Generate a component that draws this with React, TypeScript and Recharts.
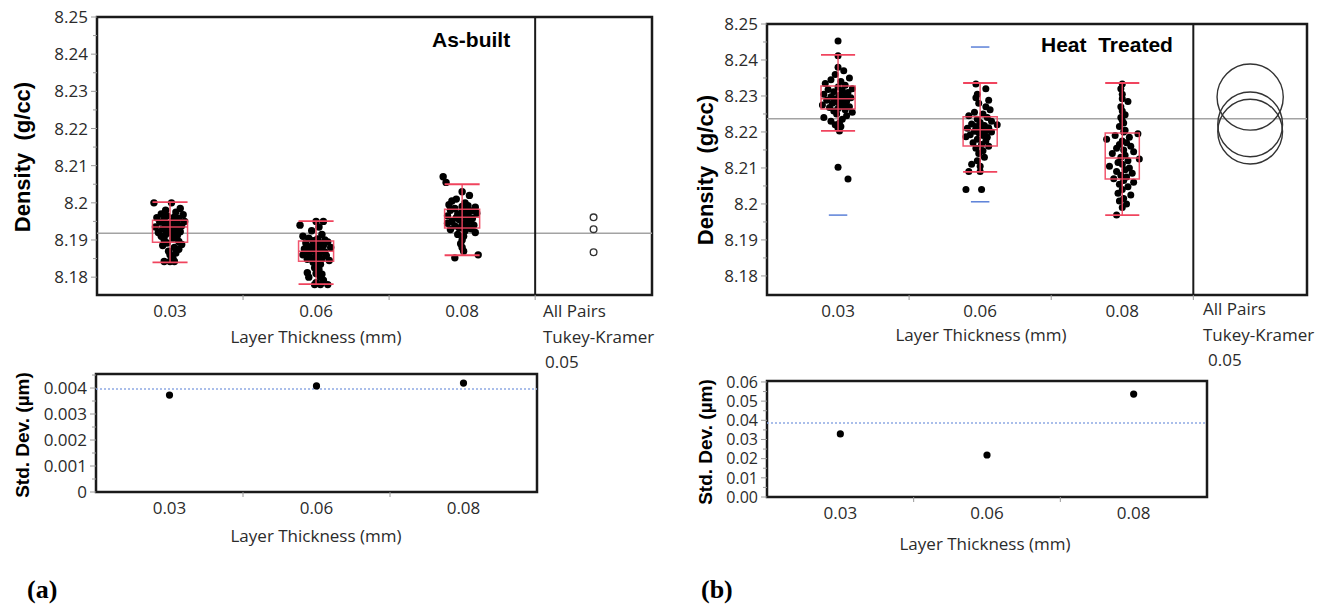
import React from "react";
import { ComposedChart, Scatter, XAxis, YAxis, ReferenceArea, ReferenceLine } from "recharts";

// layer thickness groups (mm)
const thickness = ["0.03", "0.06", "0.08"];

// As-built density readings, [density g/cc, horizontal jitter in band units]
const asBuilt003 = [
  [8.2, -0.11], [8.2, 0.01], [8.1985, 0.07], [8.198, -0.03], [8.1975, 0.04], [8.197, -0.06],
  [8.1968, 0.09], [8.1965, -0.02], [8.1962, 0.03], [8.196, -0.09], [8.1958, 0.06], [8.1955, -0.04],
  [8.1952, 0.02], [8.195, 0.1], [8.1948, -0.07], [8.1945, 0.0], [8.1943, 0.05], [8.194, -0.03],
  [8.1938, 0.08], [8.1935, -0.1], [8.1933, 0.02], [8.193, -0.05], [8.1928, 0.04], [8.1925, -0.01],
  [8.1922, 0.07], [8.192, -0.08], [8.1918, 0.01], [8.1915, -0.03], [8.1912, 0.05], [8.191, -0.06],
  [8.1905, 0.02], [8.19, -0.04], [8.1896, 0.06], [8.1892, -0.02], [8.1888, 0.08], [8.1885, -0.05],
  [8.188, 0.03], [8.1875, 0.06], [8.187, -0.01], [8.1865, 0.04], [8.186, 0.0], [8.185, 0.02],
  [8.1842, -0.04], [8.1842, 0.03], [8.1842, 0.0],
];
const asBuilt006 = [
  [8.195, 0.0], [8.195, 0.05], [8.194, -0.11], [8.1935, 0.02], [8.1925, -0.03], [8.1915, 0.04],
  [8.191, -0.09], [8.1905, -0.05], [8.1903, 0.01], [8.19, 0.06], [8.1898, -0.02], [8.1895, 0.08],
  [8.1892, -0.07], [8.189, 0.03], [8.1887, -0.01], [8.1885, 0.05], [8.1882, -0.04], [8.188, 0.1],
  [8.1878, 0.0], [8.1876, -0.08], [8.1873, 0.04], [8.187, -0.02], [8.1868, 0.06], [8.1865, -0.05],
  [8.1862, 0.02], [8.186, -0.09], [8.1858, 0.07], [8.1855, 0.0], [8.1852, -0.03], [8.185, 0.04],
  [8.1848, -0.06], [8.1845, 0.09], [8.1843, 0.01], [8.184, -0.02], [8.1835, 0.03], [8.183, 0.01],
  [8.1825, -0.01], [8.182, 0.02], [8.1812, -0.06], [8.181, 0.0], [8.1808, 0.04], [8.18, -0.05],
  [8.18, 0.03], [8.1792, 0.05], [8.1785, 0.0], [8.178, -0.01], [8.178, 0.03], [8.178, 0.08],
];
const asBuilt008 = [
  [8.207, -0.13], [8.2055, -0.11], [8.203, 0.0], [8.202, 0.05], [8.201, -0.04], [8.2005, -0.07],
  [8.2, 0.02], [8.1995, -0.09], [8.1992, 0.04], [8.199, 0.0], [8.1988, 0.09], [8.1985, -0.05],
  [8.1982, 0.02], [8.198, -0.08], [8.1978, 0.06], [8.1975, 0.0], [8.1972, 0.1], [8.197, -0.03],
  [8.1968, 0.04], [8.1965, -0.1], [8.1962, 0.01], [8.196, -0.04], [8.1958, 0.07], [8.1955, -0.02],
  [8.1952, 0.05], [8.195, -0.07], [8.1948, 0.03], [8.1945, -0.1], [8.1942, 0.0], [8.194, 0.08],
  [8.1938, -0.05], [8.1935, 0.04], [8.1932, -0.02], [8.193, 0.06], [8.1928, -0.08], [8.1925, 0.02],
  [8.192, 0.09], [8.1915, -0.03], [8.191, 0.01], [8.19, 0.0], [8.189, -0.01], [8.188, 0.0],
  [8.187, 0.01], [8.186, 0.11], [8.1852, -0.05],
];

// Heat treated density readings
const heat003 = [
  [8.2453, 0.0], [8.2412, 0.0], [8.238, 0.0], [8.237, 0.04], [8.236, -0.02], [8.235, 0.08],
  [8.2345, -0.05], [8.234, 0.02], [8.2335, -0.09], [8.233, 0.05], [8.2325, 0.0], [8.232, 0.1],
  [8.2318, -0.07], [8.2315, 0.03], [8.2312, -0.03], [8.231, 0.07], [8.2305, -0.1], [8.2302, 0.01],
  [8.23, 0.05], [8.2298, -0.05], [8.2295, 0.09], [8.2292, -0.02], [8.229, 0.03], [8.2288, -0.08],
  [8.2285, 0.06], [8.2282, 0.0], [8.228, -0.04], [8.2278, 0.04], [8.2275, -0.11], [8.2272, 0.02],
  [8.227, 0.08], [8.2268, -0.06], [8.2265, 0.0], [8.2262, 0.05], [8.2258, -0.03], [8.2255, 0.1],
  [8.225, -0.01], [8.2245, 0.06], [8.224, -0.1], [8.2235, 0.03], [8.223, -0.05], [8.2225, 0.01],
  [8.222, -0.02], [8.2215, 0.02], [8.221, 0.0], [8.2203, 0.01], [8.2102, 0.0], [8.2069, 0.07],
];
const heat006 = [
  [8.2333, -0.03], [8.232, 0.04], [8.2305, -0.02], [8.2295, -0.03], [8.2288, 0.06], [8.228, -0.01],
  [8.227, 0.04], [8.2262, 0.07], [8.2255, -0.04], [8.225, 0.02], [8.2245, -0.08], [8.224, 0.05],
  [8.2235, -0.02], [8.223, 0.08], [8.2226, 0.0], [8.2222, -0.06], [8.222, 0.12], [8.2218, 0.03],
  [8.2215, -0.03], [8.2212, 0.06], [8.221, -0.09], [8.2208, 0.01], [8.2205, 0.05], [8.2202, -0.04],
  [8.22, 0.08], [8.2198, -0.01], [8.2195, 0.03], [8.2192, -0.07], [8.219, 0.02], [8.2187, -0.1],
  [8.2185, 0.05], [8.218, -0.02], [8.2175, 0.04], [8.217, -0.05], [8.2165, 0.01], [8.216, 0.06],
  [8.2155, -0.03], [8.2148, 0.02], [8.214, -0.01], [8.213, 0.03], [8.212, -0.02], [8.211, -0.06],
  [8.2105, 0.0], [8.209, -0.08], [8.209, 0.0], [8.204, -0.1], [8.204, 0.01],
];
const heat008 = [
  [8.2333, 0.0], [8.232, -0.01], [8.2305, 0.0], [8.2292, 0.0], [8.2285, 0.04], [8.227, -0.01],
  [8.2258, 0.0], [8.2248, 0.02], [8.224, -0.01], [8.2232, 0.0], [8.2225, 0.01], [8.2215, -0.02],
  [8.2205, 0.02], [8.22, 0.01], [8.2195, 0.11], [8.219, -0.05], [8.2185, 0.05], [8.218, -0.11],
  [8.2175, 0.0], [8.217, 0.03], [8.2165, -0.02], [8.216, 0.06], [8.2155, -0.04], [8.215, 0.01],
  [8.2145, 0.08], [8.214, -0.07], [8.2135, 0.02], [8.213, -0.01], [8.2125, 0.12], [8.212, 0.04],
  [8.2115, -0.03], [8.211, 0.0], [8.2105, -0.09], [8.21, 0.05], [8.2095, 0.02], [8.209, -0.04],
  [8.2085, 0.07], [8.208, -0.01], [8.2075, 0.03], [8.207, -0.06], [8.2065, 0.01], [8.206, 0.08],
  [8.2055, -0.02], [8.2048, 0.04], [8.204, 0.0], [8.203, -0.03], [8.2025, 0.06], [8.2015, 0.01],
  [8.2008, -0.02], [8.2, 0.03], [8.199, 0.0], [8.1969, -0.04],
];

// quantile boxes: whisker low, Q1, median, Q3, whisker high
const asBuiltBoxes = [
  { lo: 8.184, q1: 8.1894, median: 8.1935, q3: 8.1953, hi: 8.2002 },
  { lo: 8.1781, q1: 8.1843, median: 8.187, q3: 8.1897, hi: 8.1951 },
  { lo: 8.1859, q1: 8.1932, median: 8.1961, q3: 8.1983, hi: 8.205 },
];
const heatBoxes = [
  { lo: 8.2203, q1: 8.2264, median: 8.2292, q3: 8.2328, hi: 8.2414 },
  { lo: 8.2089, q1: 8.2161, median: 8.2206, q3: 8.2242, hi: 8.2336 },
  { lo: 8.1969, q1: 8.2069, median: 8.2128, q3: 8.2197, hi: 8.2336 },
];
// blue outlier-limit marks, [group index, density]
const heatLimits = [[0, 8.1969], [1, 8.2436], [1, 8.2006]];

const asBuiltGrandMean = 8.1918;
const heatGrandMean = 8.2237;

// Tukey-Kramer comparison circles: centre (group mean) and radius, g/cc
const asBuiltMeans = [8.1929, 8.1867, 8.1961];
const asBuiltRadii = [0.0009, 0.0009, 0.0009];
const heatMeans = [8.2297, 8.2221, 8.2201];
const heatRadii = [0.0092, 0.009, 0.009];

// group standard deviations and pooled value
const asBuiltSd = [0.00373, 0.00408, 0.00419];
const asBuiltPooledSd = 0.00396;
const heatSd = [0.0329, 0.0219, 0.0537];
const heatPooledSd = 0.0386;

const densityMajor = [8.18, 8.19, 8.2, 8.21, 8.22, 8.23, 8.24, 8.25];
const densityLabels = ["8.18", "8.19", "8.2", "8.21", "8.22", "8.23", "8.24", "8.25"];
const densityMinor = [8.185, 8.195, 8.205, 8.215, 8.225, 8.235, 8.245];
const asBuiltSdMajor = [0, 0.001, 0.002, 0.003, 0.004];
const asBuiltSdLabels = ["0", "0.001", "0.002", "0.003", "0.004"];
const asBuiltSdMinor = [0.0005, 0.0015, 0.0025, 0.0035, 0.0045];
const heatSdMajor = [0, 0.01, 0.02, 0.03, 0.04, 0.05, 0.06];
const heatSdLabels = ["0.00", "0.01", "0.02", "0.03", "0.04", "0.05", "0.06"];
const heatSdMinor = [0.005, 0.015, 0.025, 0.035, 0.045, 0.055];

const RED = "#f0445e";
const BLUE = "#5b80d8";
const FRAME = "#1a1a1a";
const TEXT = "#2b2b2b";
const SANS = "'Open Sans', 'Noto Sans', sans-serif";
const BOLD = "'Liberation Sans', Arial, sans-serif";
const SERIF = "'Liberation Serif', 'Times New Roman', serif";
const FS = 17;
const HALF = 0.12;
const X_AXIS_H = 50;
const TOP_H = 345;

const YTick = (props: any) => {
  const { x, y, payload, major, labels, fontSize = FS } = props;
  const idx = major.findIndex((m: number) => Math.abs(m - payload.value) < 1e-9);
  return (
    <g>
      <line x1={x} x2={x - (idx >= 0 ? 6 : 4)} y1={y} y2={y} stroke="#9a9a9a" />
      {idx >= 0 && (
        <text x={x - 9} y={y} dy="0.36em" textAnchor="end" fontSize={fontSize} fill={TEXT} fontFamily={SANS}>
          {labels[idx]}
        </text>
      )}
    </g>
  );
};

const XTick = (props: any) => {
  const { x, y, payload } = props;
  const v = payload.value;
  if (Number.isInteger(v)) {
    return (
      <text x={x} y={y + 16} dy="0.36em" textAnchor="middle" fontSize={FS} fill={TEXT} fontFamily={SANS}>
        {thickness[v - 1]}
      </text>
    );
  }
  return <line x1={x} x2={x} y1={y} y2={y + 5} stroke="#9a9a9a" />;
};

const toPoints = (groups: number[][][]) =>
  groups.flatMap((pts, gi) => pts.map(([v, j]) => ({ x: gi + 1 + j, y: v })));

type Box = { lo: number; q1: number; median: number; q3: number; hi: number };

// shared axes for the density panels; ticks off for the overlay copy
const densityAxes = (domain: [number, number], yWidth: number, showTicks: boolean) => [
  <XAxis
    key="x"
    dataKey="x"
    type="number"
    domain={[0.5, 4.3]}
    allowDataOverflow
    ticks={[1, 1.5, 2, 2.5, 3, 3.5]}
    interval={0}
    height={X_AXIS_H}
    axisLine={false}
    tickLine={false}
    tickSize={0}
    tickMargin={0}
    tick={showTicks ? (p: any) => <XTick {...p} /> : false}
  />,
  <YAxis
    key="y"
    dataKey="y"
    type="number"
    domain={domain}
    allowDataOverflow
    ticks={[...densityMajor, ...densityMinor].sort((a, b) => a - b)}
    interval={0}
    width={yWidth}
    axisLine={false}
    tickLine={false}
    tickSize={0}
    tickMargin={0}
    tick={showTicks ? (p: any) => <YTick {...p} major={densityMajor} labels={densityLabels} /> : false}
  />,
];

function DensityChart(props: {
  left: number;
  width: number;
  yWidth: number;
  marginTop: number;
  marginRight: number;
  domain: [number, number];
  groups: number[][][];
  boxes: Box[];
  grandMean: number;
  means: number[];
  radii: number[];
  limits?: number[][];
  dotR: number;
}) {
  const { left, width, yWidth, marginTop, marginRight, domain, groups, boxes, grandMean, means, radii, limits = [], dotR } = props;
  const margin = { top: marginTop, right: marginRight, bottom: 0, left: 0 };
  const pxPerUnit = (TOP_H - marginTop - X_AXIS_H) / (domain[1] - domain[0]);
  const dots = toPoints(groups);
  const circles = means.map((m, i) => ({ x: 3.9, y: m, r: radii[i] }));
  return (
    <>
      <div style={{ position: "absolute", left, top: 0 }}>
        <ComposedChart width={width} height={TOP_H} margin={margin}>
          {densityAxes(domain, yWidth, true)}
          <ReferenceLine y={grandMean} stroke="#a3a3a3" strokeWidth={1.5} />
          <ReferenceLine x={3.5} stroke={FRAME} strokeWidth={2} />
          <ReferenceArea x1={0.5} x2={4.3} y1={domain[0]} y2={domain[1]} fill="none" stroke={FRAME} strokeWidth={2.5} />
          <Scatter
            data={dots}
            isAnimationActive={false}
            shape={(p: any) => <circle cx={p.cx} cy={p.cy} r={dotR} fill="#000" />}
          />
          <Scatter
            data={circles}
            isAnimationActive={false}
            shape={(p: any) => (
              <circle cx={p.cx} cy={p.cy} r={p.payload.r * pxPerUnit} fill="none" stroke="#333" strokeWidth={1.4} />
            )}
          />
        </ComposedChart>
      </div>
      {/* quantile boxes drawn above the points */}
      <div style={{ position: "absolute", left, top: 0 }}>
        <ComposedChart width={width} height={TOP_H} margin={margin}>
          {densityAxes(domain, yWidth, false)}
          {boxes.map((b, i) => (
            <ReferenceArea key={`box${i}`} x1={i + 1 - HALF} x2={i + 1 + HALF} y1={b.q1} y2={b.q3} fill="none" stroke={RED} strokeWidth={1.5} strokeOpacity={0.9} />
          ))}
          {boxes.map((b, i) => (
            <ReferenceLine key={`wh${i}`} segment={[{ x: i + 1, y: b.lo }, { x: i + 1, y: b.hi }]} stroke={RED} strokeWidth={1.5} strokeOpacity={0.9} />
          ))}
          {boxes.map((b, i) => (
            <ReferenceLine key={`md${i}`} segment={[{ x: i + 1 - HALF, y: b.median }, { x: i + 1 + HALF, y: b.median }]} stroke={RED} strokeWidth={1.5} strokeOpacity={0.9} />
          ))}
          {boxes.map((b, i) => (
            <ReferenceLine key={`lc${i}`} segment={[{ x: i + 1 - HALF, y: b.lo }, { x: i + 1 + HALF, y: b.lo }]} stroke={RED} strokeWidth={1.8} />
          ))}
          {boxes.map((b, i) => (
            <ReferenceLine key={`hc${i}`} segment={[{ x: i + 1 - HALF, y: b.hi }, { x: i + 1 + HALF, y: b.hi }]} stroke={RED} strokeWidth={1.8} />
          ))}
          {limits.map(([g, v], i) => (
            <ReferenceLine key={`lim${i}`} segment={[{ x: g + 1 - 0.065, y: v }, { x: g + 1 + 0.065, y: v }]} stroke={BLUE} strokeWidth={1.5} />
          ))}
        </ComposedChart>
      </div>
    </>
  );
}

function SdChart(props: {
  left: number;
  width: number;
  yWidth: number;
  marginTop: number;
  plotH: number;
  domain: [number, number];
  sd: number[];
  pooled: number;
  major: number[];
  labels: string[];
  minor: number[];
  tickFont?: number;
}) {
  const { left, width, yWidth, marginTop, plotH, domain, sd, pooled, major, labels, minor, tickFont = FS } = props;
  const height = 190;
  const points = sd.map((v, i) => ({ x: i + 1, y: v }));
  const yTicks = [...major, ...minor].sort((a, b) => a - b);
  return (
    <div style={{ position: "absolute", left, top: 360 }}>
      <ComposedChart width={width} height={height} margin={{ top: marginTop, right: 8, bottom: 0, left: 0 }}>
        <XAxis
          dataKey="x"
          type="number"
          domain={[0.5, 3.5]}
          allowDataOverflow
          ticks={[1, 1.5, 2, 2.5, 3]}
          interval={0}
          height={height - marginTop - plotH}
          axisLine={false}
          tickLine={false}
          tickSize={0}
          tickMargin={0}
          tick={(p: any) => <XTick {...p} />}
        />
        <YAxis
          dataKey="y"
          type="number"
          domain={domain}
          allowDataOverflow
          ticks={yTicks}
          interval={0}
          width={yWidth}
          axisLine={false}
          tickLine={false}
          tickSize={0}
          tickMargin={0}
          tick={(p: any) => <YTick {...p} major={major} labels={labels} fontSize={tickFont} />}
        />
        <ReferenceLine y={pooled} stroke="#8fa9e3" strokeWidth={1.5} strokeDasharray="2 2" />
        <ReferenceArea x1={0.5} x2={3.5} y1={domain[0]} y2={domain[1]} fill="none" stroke={FRAME} strokeWidth={2.5} />
        <Scatter
          data={points}
          isAnimationActive={false}
          shape={(p: any) => <circle cx={p.cx} cy={p.cy} r={3.6} fill="#000" />}
        />
      </ComposedChart>
    </div>
  );
}

const T = ({ x, y, children, size = FS, bold = false, font = SANS, rotate = false, anchor = "middle" }: any) => (
  <text
    transform={`translate(${x},${y})${rotate ? " rotate(-90)" : ""}`}
    textAnchor={anchor}
    dy="0.35em"
    fontFamily={font}
    fontSize={size}
    fontWeight={bold ? 700 : 400}
    fill={bold ? "#000" : TEXT}
    style={{ whiteSpace: "pre" }}
  >
    {children}
  </text>
);

export default function App() {
  return (
    <div style={{ position: "absolute", left: 0, top: 0, width: 1325, height: 605, background: "#fff", overflow: "hidden" }}>
      <DensityChart
        left={0}
        width={660}
        yWidth={97}
        marginTop={17}
        marginRight={8}
        domain={[8.1752, 8.25]}
        groups={[asBuilt003, asBuilt006, asBuilt008]}
        boxes={asBuiltBoxes}
        grandMean={asBuiltGrandMean}
        means={asBuiltMeans}
        radii={asBuiltRadii}
        dotR={3.7}
      />
      <DensityChart
        left={680}
        width={645}
        yWidth={87}
        marginTop={24}
        marginRight={18}
        domain={[8.1747, 8.25]}
        groups={[heat003, heat006, heat008]}
        boxes={heatBoxes}
        grandMean={heatGrandMean}
        means={heatMeans}
        radii={heatRadii}
        limits={heatLimits}
        dotR={3.5}
      />
      <SdChart
        left={0}
        width={545}
        yWidth={96}
        marginTop={14}
        plotH={118}
        domain={[0, 0.00454]}
        sd={asBuiltSd}
        pooled={asBuiltPooledSd}
        major={asBuiltSdMajor}
        labels={asBuiltSdLabels}
        minor={asBuiltSdMinor}
      />
      <SdChart
        left={680}
        width={535}
        yWidth={87}
        marginTop={21}
        plotH={116}
        domain={[0, 0.0605]}
        sd={heatSd}
        pooled={heatPooledSd}
        major={heatSdMajor}
        labels={heatSdLabels}
        minor={heatSdMinor}
        tickFont={16}
      />

      <svg width={1325} height={605} style={{ position: "absolute", left: 0, top: 0, pointerEvents: "none" }}>
        <T x={22} y={157} size={22} bold font={BOLD} rotate>{"Density  (g/cc)"}</T>
        <T x={432} y={40} size={21} bold font={BOLD} anchor="start">As-built</T>
        <T x={316} y={337}>Layer Thickness (mm)</T>
        <T x={543} y={311} anchor="start">All Pairs</T>
        <T x={543} y={337} anchor="start">Tukey-Kramer</T>
        <T x={545} y={362} anchor="start">0.05</T>
        <T x={22} y={435} size={19} bold font={BOLD} rotate>{"Std. Dev. (µm)"}</T>
        <T x={316} y={536}>Layer Thickness (mm)</T>
        <T x={27} y={589} size={26} bold font={SERIF} anchor="start">(a)</T>

        <T x={705} y={170} size={22} bold font={BOLD} rotate>{"Density  (g/cc)"}</T>
        <T x={1041} y={45} size={21} bold font={BOLD} anchor="start">{"Heat  Treated"}</T>
        <T x={981} y={335}>Layer Thickness (mm)</T>
        <T x={1203} y={309} anchor="start">All Pairs</T>
        <T x={1203} y={335} anchor="start">Tukey-Kramer</T>
        <T x={1208} y={360} anchor="start">0.05</T>
        <T x={705} y={442} size={19} bold font={BOLD} rotate>{"Std. Dev. (µm)"}</T>
        <T x={985} y={544}>Layer Thickness (mm)</T>
        <T x={701} y={589} size={26} bold font={SERIF} anchor="start">(b)</T>
      </svg>
    </div>
  );
}
